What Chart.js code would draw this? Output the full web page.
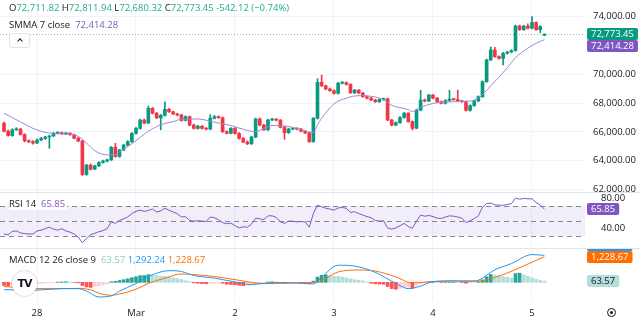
<!DOCTYPE html>
<html>
<head>
<meta charset="utf-8">
<script src="https://cdn.jsdelivr.net/npm/chart.js@4.4.1/dist/chart.umd.min.js"></script>
<style>
  html, body { margin: 0; padding: 0; background: #fff; }
  #wrap { position: relative; width: 640px; height: 325px; overflow: hidden; font-family: 'Open Sans', sans-serif; }
  #chart { position: absolute; left: 0; top: 0; }
  .lg { position: absolute; left: 9px; font-size: 9.5px; line-height: 12px; color: #131722; white-space: nowrap; }
  .bg { background: #fff; padding-right: 2px; }
  .g { color: #22ab94; }
  .p { color: #7e57c2; }
  .hb { color: #89d0c5; }
  .bl { color: #2196f3; }
  .or { color: #ff6d00; }
  #fold { position: absolute; left: 9px; top: 33px; width: 19px; height: 13px; border: 1px solid #e0e3eb; border-radius: 3px; background: #fff; }
  #fold i { position: absolute; left: 8px; top: 5px; width: 3px; height: 3px; border-left: 1.2px solid #131722; border-top: 1.2px solid #131722; transform: rotate(45deg); }
  #logo { position: absolute; left: 12px; top: 271px; width: 25px; height: 25px; border-radius: 50%; background: #fff; box-shadow: 0 0 2px rgba(0,0,0,0.35); font: 900 11px 'DejaVu Sans', sans-serif; letter-spacing: -1px; text-align: center; line-height: 25px; color: #131722; }
  #gear { position: absolute; left: 607px; top: 308px; width: 7px; height: 7px; border: 1.5px solid #131722; border-radius: 50%; }
  #gear i { position: absolute; left: 2px; top: 2px; width: 3px; height: 3px; background: #131722; border-radius: 50%; }
</style>
</head>
<body>
<div id="wrap">
  <canvas id="chart" width="640" height="325"></canvas>
  <div class="lg" style="top:2px">O<span class="g">72,711.82</span> H<span class="g">72,811.94</span> L<span class="g">72,680.32</span> C<span class="g">72,773.45</span> <span class="g">-542.12 (−0.74%)</span></div>
  <div class="lg" style="top:19px">SMMA 7 close&nbsp; <span class="p">72,414.28</span></div>
  <div id="fold"><i></i></div>
  <div class="lg bg" style="top:198px">RSI 14&nbsp; <span class="p">65.85</span></div>
  <div class="lg" style="top:254px">MACD 12 26 close 9&nbsp; <span class="hb">63.57</span> <span class="bl">1,292.24</span> <span class="or">1,228.67</span></div>
  <div id="logo">TV</div>
  <div id="gear"><i></i></div>
</div>
<script>
// hourly candles, Feb 27 16:00 -> Mar 5 03:00
var opens = [
  66600,66050,65750,66150,66200,65820,65380,65330,
  65230,65440,65550,65650,65720,65910,65950,65870,65910,65810,
  65570,65370,63050,63700,63420,63650,63880,63980,64060,64940,
  64300,64750,65090,65330,65900,66250,66830,66620,67640,67300,
  66980,67150,67570,67400,67250,67180,66800,67060,66480,66250,
  66400,66250,66200,66950,67060,66990,66020,65910,66250,65900,
  65550,65300,65180,65650,66900,66480,66150,66830,66880,66820,
  66330,65950,66200,66230,66200,66050,65930,65330,66950,69450,
  69200,68980,68870,68680,69380,69420,69300,68720,68900,68700,
  68450,68340,68220,68100,68250,68300,66830,66480,66650,67000,
  67300,66720,66260,67520,68220,68150,68560,68350,68100,67990,
  68180,68280,68250,68150,68100,67500,67830,68150,68450,69490,
  71000,71690,71230,71110,71460,71550,71650,73350,73100,73350,
  73200,73600,73100,72711.82
];
var highs = [
  66680,66150,66220,66300,66250,65880,65450,65400,
  65500,65620,65700,65780,65980,66020,66000,65960,65950,65860,
  65620,65420,63760,63780,63700,63940,64050,64120,65000,65210,
  64800,65150,65400,65960,66320,66900,66900,67800,67700,67360,
  67220,68100,67640,67450,67300,67230,67120,67110,66540,66460,
  66450,66300,67200,67150,67130,67040,66080,66310,66300,65950,
  65620,65380,65700,66960,66980,66530,66900,66950,66940,66870,
  66380,66260,66290,66280,66250,66100,65980,67010,69700,69950,
  69260,69040,68920,69440,69500,69480,69350,68960,68950,68750,
  68500,68400,68270,68310,68360,68350,66880,66710,67060,67360,
  67350,66770,67580,68900,68280,68620,68610,68400,68150,68240,
  68900,68330,68900,68200,68150,67890,68210,68510,69550,71060,
  71900,71880,71280,71520,71610,71710,73420,73420,73410,73500,
  74000,73650,73380,72811.94
];
var lows = [
  66000,65700,65700,66100,65780,65320,65250,65150,
  65180,65400,65480,64870,65680,65860,65830,65820,65760,65520,
  65320,62980,62990,63350,63380,63600,63840,63930,64020,64250,
  64240,64700,65040,65280,65850,66200,66560,66580,67250,66920,
  66150,67100,67350,67200,67120,66740,66760,66420,66200,66200,
  66200,66150,66150,66900,66940,65960,65860,65860,65850,65500,
  65250,65120,65130,65600,66430,66100,66100,66780,66770,66280,
  65490,65900,66150,66150,66000,65880,65270,65280,66900,69150,
  68930,68820,68620,68630,69330,69250,68670,68670,68650,68400,
  68290,68170,68050,68050,68200,66780,66420,66430,66600,66950,
  66670,66140,66210,67470,68090,68100,68300,68050,67940,67940,
  68130,68200,68100,68050,67450,67450,67780,68100,68400,69440,
  70950,71180,71050,70650,71400,71500,71600,73050,73050,73150,
  73150,73050,72900,72680.32
];
var closes = [
  66050,65750,66150,66200,65820,65380,65330,65230,
  65440,65550,65650,65720,65910,65950,65870,65910,65810,65570,
  65370,63050,63700,63420,63650,63880,63980,64060,64940,64300,
  64750,65090,65330,65900,66250,66830,66620,67640,67300,66980,
  67150,67570,67400,67250,67180,66800,67060,66480,66250,66400,
  66250,66200,66950,67060,66990,66020,65910,66250,65900,65550,
  65300,65180,65650,66900,66480,66150,66830,66880,66820,66330,
  65950,66200,66230,66200,66050,65930,65330,66950,69450,69200,
  68980,68870,68680,69380,69420,69300,68720,68900,68700,68450,
  68340,68220,68100,68250,68300,66830,66480,66650,67000,67300,
  66720,66260,67520,68220,68150,68560,68350,68100,67990,68180,
  68280,68250,68150,68100,67500,67830,68150,68450,69490,71000,
  71690,71230,71110,71460,71550,71650,73350,73100,73350,73200,
  73600,73100,73316,72773.45
];

// SMMA 7, read at these candle indexes
var smmaAt = [0,4,7,11,15,18,20,22,25,27,28,31,35,38,41,43,47,51,55,59,61,63,65,69,73,75,76,77,80,83,86,91,93,94,98,99,101,104,109,113,115,118,122,124,127,129,131];
var smma = [67300,66700,66255,65920,65860,65700,65230,64700,64410,64420,64630,65180,66050,66500,66720,66880,66900,66680,66450,66100,66020,66250,66450,66380,66080,65950,66500,66950,67950,68350,68520,68350,68050,67850,67550,67420,67700,67980,68100,68150,68350,69200,70450,71150,71820,72150,72414.28];

// RSI 14, one value per candle
var rsi = [
  33,32,36.5,37,34.5,33.5,33,33,
  37,38,40,42,39.5,38,40,37,35.5,33,
  29,21.5,27,32,34,36,37.5,40,49,47,
  51,53,55.5,60,63,64.5,63,64,66,62,
  63.5,67,64.5,62,60,55.5,56,51,50,50.5,
  50,49.5,55.5,54.5,52,48,46.5,47.5,44,41,
  42.5,42,46,54,53,52,57,57,55,49,
  47,50,50,49,49.5,49,42,60,71,69,
  67,66,64.5,67.5,68,67,61.5,62.5,60,58,
  56,54.5,51,50,50.5,41,39.5,41,44,47,
  43,40.5,50,58,56.5,57.5,56,54,53.5,55.5,
  57,56.5,55.5,54,48,50.5,53.5,57,68.5,73,
  74,71.5,71,71,72,73,80.5,79,80,79.5,
  79.5,74.5,71.5,65.85
];
var rsiLevels = [70, 50, 30];

// MACD 12 26 9
var macdAt = [0,8,14,18,20,23,26,28,32,35,40,43,46,51,56,60,63,67,72,75,77,81,85,90,95,98,101,104,109,113,115,119,123,128,131];
var macd = [-350,-370,-300,-300,-420,-700,-650,-420,-60,280,560,520,330,200,20,-110,-50,-10,-40,-80,250,820,780,480,-50,-300,-180,40,70,50,100,600,900,1330,1292.24];
var signalAt = [0,8,14,18,21,23,26,28,32,35,39,43,46,51,56,60,63,69,74,77,81,86,90,95,99,103,108,113,115,120,125,131];
var signal = [-200,-300,-300,-290,-360,-520,-620,-560,-330,-50,200,400,370,280,130,0,-60,-40,-30,80,500,590,540,260,-30,30,60,70,60,300,700,1228.67];
var hist = [
  -150,-170,-120,-90,-70,-85,-90,-80,
  -65,-50,-35,-25,-10,10,20,25,20,-5,
  -20,-150,-220,-240,-200,-160,-120,-80,30,50,
  90,130,170,220,270,320,330,370,360,330,
  300,290,260,220,180,140,80,40,-20,-40,
  -60,-70,-50,-40,-30,-40,-90,-100,-110,-140,
  -160,-150,-110,-60,-30,-20,15,25,20,-10,
  -30,-25,-20,-15,-20,-30,-60,60,250,340,
  360,330,290,280,250,210,170,130,100,70,
  20,-40,-70,-80,-90,-200,-300,-330,-290,-230,
  -220,-280,-150,-60,-20,10,20,15,-5,5,
  10,10,5,-10,-40,-30,-10,30,120,270,
  380,350,300,270,240,210,420,440,360,290,
  220,150,100,63.57
];

// time axis
var dayTicks = [8, 32, 56, 80, 104, 128];
var dayLabels = ['28', 'Mar', '2', '3', '4', '5'];
var priceTicks = [62000, 64000, 66000, 68000, 70000, 74000];
var rsiTicks = [40, 80];

var UP = '#089981', DOWN = '#f23645';
var FONT = 'Open Sans';

function pts(xs, ys) { return ys.map(function(v, i){ return {x: xs[i], y: v}; }); }
var idx = closes.map(function(v, i){ return i; });

var candleColor = closes.map(function(c, i){ return c >= opens[i] ? UP : DOWN; });
var histColor = hist.map(function(v, i){
  var p = i > 0 ? hist[i-1] : v;
  if (v >= 0) return v >= p ? '#26a69a' : '#b2dfdb';
  return v <= p ? '#ff5252' : '#ffcdd2';
});

function fmt(v) { return v.toLocaleString('en-US', {minimumFractionDigits: 2, maximumFractionDigits: 2}); }
// no label padding, fixed right scale width
function fitY(s) { s.width = 55; s.paddingTop = 0; s.paddingBottom = 0; }
function fitX(s) { s.height = 24; s.paddingLeft = 0; s.paddingRight = 0; }
// keep a pane's labels inside the pane
function clipPane(s) {
  s.draw = function(area) {
    var c = this.ctx;
    c.save();
    c.beginPath(); c.rect(0, this.top, this.chart.width, this.bottom - this.top); c.clip();
    Object.getPrototypeOf(this).draw.call(this, area);
    c.restore();
  };
}

var panes = {
  id: 'panes',
  beforeDatasetsDraw: function(chart) {
    var ctx = chart.ctx, a = chart.chartArea, r = chart.scales.rsi, y = chart.scales.y;
    ctx.save();
    ctx.fillStyle = 'rgba(126,87,194,0.1)';
    var t = r.getPixelForValue(rsiLevels[0]), b = r.getPixelForValue(rsiLevels[rsiLevels.length-1]);
    ctx.fillRect(a.left, t, a.right - a.left, b - t);
    ctx.strokeStyle = 'rgba(120,123,134,0.9)';
    ctx.lineWidth = 1;
    ctx.setLineDash([5, 4]);
    rsiLevels.forEach(function(l){
      var py = Math.round(r.getPixelForValue(l)) + 0.5;
      ctx.beginPath(); ctx.moveTo(a.left, py); ctx.lineTo(a.right, py); ctx.stroke();
    });
    // last price line
    ctx.strokeStyle = 'rgba(8,153,129,0.55)';
    ctx.setLineDash([1, 2]);
    var cy = Math.round(y.getPixelForValue(closes[closes.length-1])) + 0.5;
    ctx.beginPath(); ctx.moveTo(a.left, cy); ctx.lineTo(a.right, cy); ctx.stroke();
    ctx.restore();
  },
  afterDraw: function(chart) {
    var ctx = chart.ctx, W = chart.width;
    ctx.save();
    ctx.strokeStyle = '#e0e3eb';
    ctx.lineWidth = 1;
    [chart.scales.rsi.top, chart.scales.macd.top].forEach(function(t){
      var py = Math.round(t) + 0.5;
      ctx.beginPath(); ctx.moveTo(0, py); ctx.lineTo(W, py); ctx.stroke();
    });
    // value tags on the right scale
    var n = closes.length - 1;
    var tags = [
      {axis: 'y', value: closes[n], bg: UP, fg: '#fff'},
      {axis: 'y', value: smma[smma.length-1], bg: '#7e57c2', fg: '#fff'},
      {axis: 'rsi', value: rsi[n], bg: '#7e57c2', fg: '#fff'},
      {axis: 'macd', value: signal[signal.length-1], bg: '#ff6d00', fg: '#fff'},
      {axis: 'macd', value: macd[macd.length-1], bg: '#2196f3', fg: '#fff'},
      {axis: 'macd', value: hist[n], bg: '#b2dfdb', fg: '#131722'}
    ];
    var H = 12, placed = [];
    ctx.font = '9.5px "' + FONT + '"';
    ctx.textBaseline = 'middle';
    tags.forEach(function(t){
      var s = chart.scales[t.axis];
      var py = s.getPixelForValue(t.value);
      placed.forEach(function(p){
        if (p.axis === t.axis && Math.abs(py - p.y) < H) py = py < p.y ? p.y - H : p.y + H;
      });
      placed.push({axis: t.axis, y: py});
      var txt = fmt(t.value);
      var w = ctx.measureText(txt).width + 8;
      var x = chart.chartArea.right + 2;
      ctx.save();
      ctx.beginPath(); ctx.rect(x - 2, s.top + 1, 60, s.bottom - s.top - 1); ctx.clip();
      ctx.fillStyle = t.bg;
      ctx.beginPath(); ctx.roundRect(x, Math.round(py - H/2), w, H, 2); ctx.fill();
      ctx.fillStyle = t.fg;
      ctx.fillText(txt, x + 4, Math.round(py) + 0.5);
      ctx.restore();
    });
    ctx.restore();
  }
};

new Chart(document.getElementById('chart'), {
  type: 'bar',
  data: {
    datasets: [
      {
        label: 'SMMA', type: 'line', yAxisID: 'y', order: 1,
        data: pts(smmaAt, smma),
        borderColor: '#9c89d6', borderWidth: 1, pointRadius: 0, cubicInterpolationMode: 'monotone'
      },
      {
        label: 'body', yAxisID: 'y', order: 2, grouped: false,
        data: idx.map(function(i){ return {x: i, y: [opens[i], closes[i]]}; }),
        backgroundColor: candleColor, barThickness: 3, minBarLength: 1
      },
      {
        label: 'wick', yAxisID: 'y', order: 3, grouped: false,
        data: idx.map(function(i){ return {x: i, y: [lows[i], highs[i]]}; }),
        backgroundColor: candleColor, barThickness: 1
      },
      {
        label: 'RSI', type: 'line', yAxisID: 'rsi', order: 1,
        data: pts(idx, rsi),
        borderColor: '#7e57c2', borderWidth: 1, pointRadius: 0
      },
      {
        label: 'MACD', type: 'line', yAxisID: 'macd', order: 1,
        data: pts(macdAt, macd),
        borderColor: '#2196f3', borderWidth: 1, pointRadius: 0, cubicInterpolationMode: 'monotone'
      },
      {
        label: 'Signal', type: 'line', yAxisID: 'macd', order: 1,
        data: pts(signalAt, signal),
        borderColor: '#ff6d00', borderWidth: 1, pointRadius: 0, cubicInterpolationMode: 'monotone'
      },
      {
        label: 'Histogram', yAxisID: 'macd', order: 2, grouped: false,
        data: pts(idx, hist),
        backgroundColor: histColor, barThickness: 3
      }
    ]
  },
  options: {
    responsive: false,
    animation: false,
    devicePixelRatio: 1,
    events: [],
    layout: { padding: 0 },
    plugins: { legend: { display: false }, tooltip: { enabled: false } },
    scales: {
      x: {
        type: 'linear', min: -0.97, max: 140.85, offset: false,
        grid: { color: '#f0f3fa', drawTicks: false, offset: false },
        border: { display: false },
        afterBuildTicks: function(s){ s.ticks = dayTicks.map(function(v){ return {value: v}; }); },
        afterFit: fitX,
        ticks: {
          autoSkip: false, maxRotation: 0, padding: 7, color: '#131722',
          font: { size: 9.5, family: FONT },
          callback: function(v){ return dayLabels[dayTicks.indexOf(v)]; }
        }
      },
      y: {
        position: 'right', stack: 'panes', stackWeight: 192, bounds: 'data',
        min: 61834, max: 75159,
        grid: { color: '#f0f3fa', drawTicks: false },
        border: { display: false },
        afterBuildTicks: function(s){ s.ticks = priceTicks.map(function(v){ return {value: v}; }); },
        afterFit: fitY,
        afterUpdate: clipPane,
        ticks: { padding: 8, color: '#131722', font: { size: 9.5, family: FONT }, callback: fmt }
      },
      rsi: {
        position: 'right', stack: 'panes', stackWeight: 56, bounds: 'data',
        min: 14.5, max: 88.5,
        grid: { display: false },
        border: { display: false },
        afterBuildTicks: function(s){ s.ticks = rsiTicks.map(function(v){ return {value: v}; }); },
        afterFit: fitY,
        ticks: { padding: 8, color: '#131722', font: { size: 9.5, family: FONT }, callback: fmt }
      },
      macd: {
        position: 'right', stack: 'panes', stackWeight: 53, bounds: 'data',
        min: -893, max: 1645,
        grid: { display: false },
        border: { display: false },
        afterFit: fitY,
        ticks: { display: false }
      }
    }
  },
  plugins: [panes]
});
</script>
</body>
</html>
